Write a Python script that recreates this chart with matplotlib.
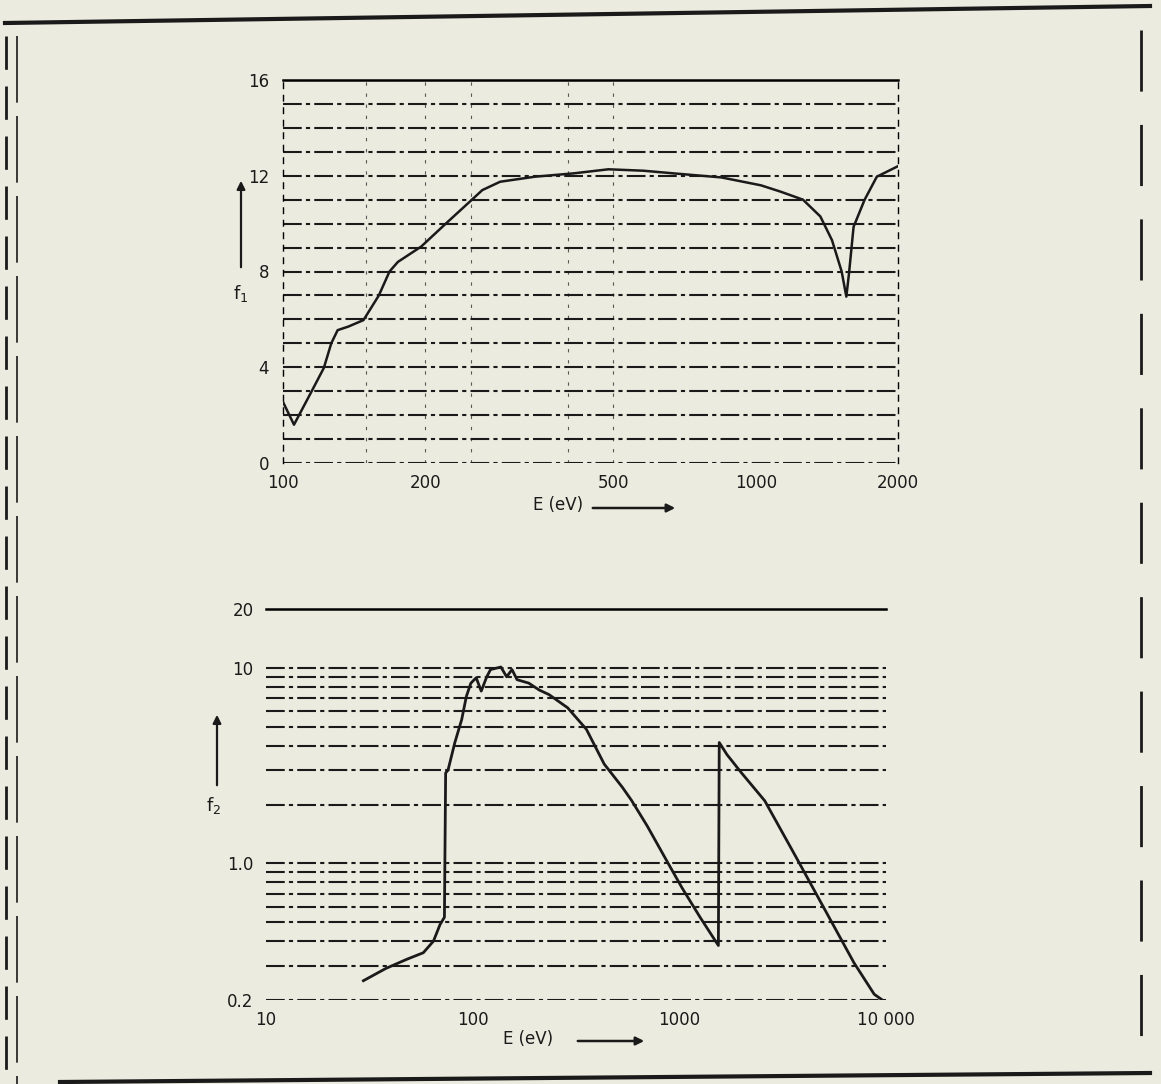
import matplotlib
matplotlib.use('Agg')
import matplotlib.pyplot as plt
from matplotlib.lines import Line2D
from matplotlib.patches import FancyArrowPatch
from matplotlib.ticker import FixedLocator, NullFormatter

# f1 of aluminium, 100 - 2000 eV
E_f1 = [100, 105.5, 115, 122, 126.5, 130.5, 137.5, 148, 159.5, 168, 175, 196, 221, 251,
        264, 288, 341, 412, 488, 579, 670, 846, 1026, 1131, 1259, 1370, 1450, 1520,
        1555, 1575, 1611, 1700, 1804, 2000]
f1 = [2.55, 1.6, 3.0, 3.97, 5.0, 5.55, 5.7, 5.97, 7.0, 8.0, 8.4, 9.04, 10.0, 11.0,
      11.4, 11.75, 11.96, 12.1, 12.27, 12.21, 12.1, 11.93, 11.6, 11.33, 11.0, 10.3, 9.31, 8.0,
      6.95, 7.9, 9.87, 11.0, 11.96, 12.4]

# f2 of aluminium, 10 - 10000 eV
E_f2 = [29.6, 38, 48, 57.7, 64.6, 69.5, 73, 74, 76, 82, 88.5, 93.2, 98, 104, 110, 117,
        122, 137, 146, 155, 164, 187, 210, 234, 288, 355, 433, 530, 587, 700, 883, 1030,
        1260, 1545, 1560, 1700, 2000, 2590, 3700, 5300, 7000, 8770, 9600]
f2 = [0.251, 0.29, 0.323, 0.349, 0.40, 0.486, 0.53, 2.9, 3.0, 4.15, 5.44, 7.14, 8.35, 8.9, 7.6, 9.0,
      9.8, 10.1, 9.0, 9.8, 8.7, 8.35, 7.7, 7.3, 6.25, 4.85, 3.22, 2.45, 2.1, 1.55, 1.0, 0.75,
      0.53, 0.38, 4.15, 3.6, 2.9, 2.09, 1.06, 0.53, 0.31, 0.214, 0.2]

top_xticks = [100, 200, 500, 1000, 2000]
top_xlabels = ['100', '200', '500', '1000', '2000']
top_vgrid = [150, 200, 250, 400, 500]
top_yticks = [0, 4, 8, 12, 16]

bot_xticks = [10, 100, 1000, 10000]
bot_xlabels = ['10', '100', '1000', '10 000']
bot_yticks = [0.2, 1, 10, 20]
bot_ylabels = ['0.2', '1.0', '10', '20']
bot_hgrid = [0.2, 0.3, 0.4, 0.5, 0.6, 0.7, 0.8, 0.9, 1, 2, 3, 4, 5, 6, 7, 8, 9, 10]

W, H = 1161, 1084
paper = '#ecebdf'
ink = '#1a1a1a'
grid_style = (0, (9, 2, 2, 2))

fig = plt.figure(figsize=(W / 100, H / 100), dpi=100, facecolor=paper)


def px(x, y):
    return (x / W, 1 - y / H)


# ---- top panel ----
ax1 = fig.add_axes([283 / W, 1 - 463 / H, 615 / W, 383 / H])
ax1.set_facecolor('none')
ax1.set_xscale('log')
ax1.set_xlim(100, 2000)
ax1.set_ylim(0, 16)
ax1.xaxis.set_major_locator(FixedLocator(top_xticks))
ax1.set_xticklabels(top_xlabels)
ax1.xaxis.set_minor_locator(FixedLocator([]))
ax1.xaxis.set_minor_formatter(NullFormatter())
ax1.set_yticks(top_yticks)
ax1.yaxis.set_minor_locator(FixedLocator(list(range(17))))
ax1.tick_params(which='both', length=0, labelsize=12, colors=ink)
ax1.tick_params(axis='x', pad=8)
ax1.tick_params(axis='y', pad=10)
ax1.yaxis.grid(True, which='both', color=ink, lw=1.5, linestyle=grid_style)
for e in top_vgrid:
    ax1.axvline(e, color=ink, lw=0.8, linestyle=(0, (3, 7)), alpha=0.7)
for s in ['left', 'right']:
    ax1.spines[s].set_linestyle((0, (4, 5)))
    ax1.spines[s].set_linewidth(1.0)
ax1.spines['bottom'].set_visible(False)
ax1.spines['top'].set_linewidth(1.8)
ax1.plot(E_f1, f1, color=ink, lw=1.8, zorder=5)

# ---- bottom panel ----
ax2 = fig.add_axes([266 / W, 1 - 1000 / H, 620 / W, 391 / H])
ax2.set_facecolor('none')
ax2.set_xscale('log')
ax2.set_yscale('log')
ax2.set_xlim(10, 10000)
ax2.set_ylim(0.2, 20)
ax2.xaxis.set_major_locator(FixedLocator(bot_xticks))
ax2.set_xticklabels(bot_xlabels)
ax2.xaxis.set_minor_locator(FixedLocator([]))
ax2.xaxis.set_minor_formatter(NullFormatter())
ax2.yaxis.set_major_locator(FixedLocator(bot_yticks))
ax2.set_yticklabels(bot_ylabels)
ax2.yaxis.set_minor_locator(FixedLocator(bot_hgrid))
ax2.yaxis.set_minor_formatter(NullFormatter())
ax2.tick_params(which='both', length=0, labelsize=12, colors=ink)
ax2.tick_params(axis='x', pad=8)
ax2.tick_params(axis='y', pad=9)
for v in bot_hgrid:
    ax2.axhline(v, color=ink, lw=1.5, linestyle=grid_style, zorder=1)
for s in ['left', 'right', 'bottom']:
    ax2.spines[s].set_visible(False)
ax2.spines['top'].set_linewidth(1.8)
ax2.plot(E_f2, f2, color=ink, lw=2.0, zorder=5)

# ---- axis captions with arrows ----
fig.text(*px(533, 505), 'E (eV)', fontsize=12, ha='left', va='center', color=ink)
fig.add_artist(FancyArrowPatch(px(590, 508), px(678, 508), transform=fig.transFigure,
                               arrowstyle='-|>', mutation_scale=12, lw=1.8, color=ink))
fig.text(*px(503, 1039), 'E (eV)', fontsize=12, ha='left', va='center', color=ink)
fig.add_artist(FancyArrowPatch(px(575, 1041), px(647, 1041), transform=fig.transFigure,
                               arrowstyle='-|>', mutation_scale=12, lw=1.8, color=ink))

fig.text(*px(241, 294), 'f$_1$', fontsize=13, ha='center', va='center', color=ink)
fig.add_artist(FancyArrowPatch(px(241, 270), px(241, 178), transform=fig.transFigure,
                               arrowstyle='-|>', mutation_scale=12, lw=1.6, color=ink))
fig.text(*px(214, 806), 'f$_2$', fontsize=13, ha='center', va='center', color=ink)
fig.add_artist(FancyArrowPatch(px(217, 788), px(217, 712), transform=fig.transFigure,
                               arrowstyle='-|>', mutation_scale=12, lw=1.6, color=ink))

# ---- page frame from the scan ----
fig.add_artist(Line2D([5 / W, 1150 / W], [1 - 23 / H, 1 - 6 / H], color=ink, lw=3,
                      transform=fig.transFigure))
fig.add_artist(Line2D([60 / W, 1150 / W], [1 - 1082 / H, 1 - 1073 / H], color=ink, lw=3,
                      transform=fig.transFigure))
fig.add_artist(Line2D([6 / W, 6 / W], [1 - 36 / H, 0], color=ink, lw=2,
                      linestyle=(0, (12, 6)), transform=fig.transFigure))
fig.add_artist(Line2D([17 / W, 17 / W], [1 - 36 / H, 0], color=ink, lw=1.2,
                      linestyle=(0, (40, 8)), transform=fig.transFigure))
fig.add_artist(Line2D([1141 / W, 1141 / W], [1 - 30 / H, 1 - 1065 / H], color=ink, lw=2,
                      linestyle=(0, (22, 12)), transform=fig.transFigure))

fig.savefig('out.png', dpi=100, facecolor=paper)
